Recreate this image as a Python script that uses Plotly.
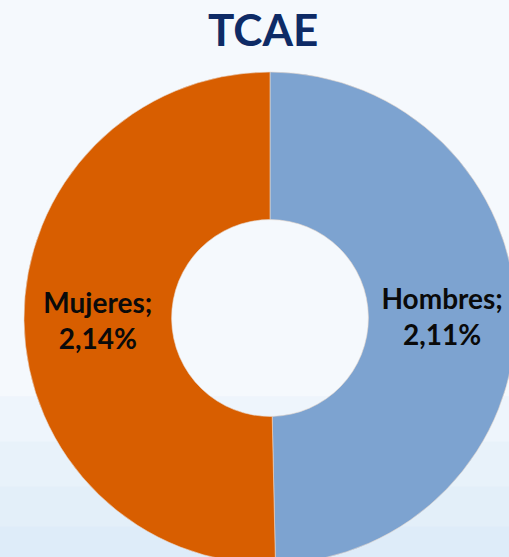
import plotly.graph_objects as go

# Data
title_text = "TCAE"
categories = ["Hombres", "Mujeres"]
values = [2.11, 2.14]
colors = ["#7DA3D0", "#D85E00"]

labels_text = [f"<b>{c};<br>{str(v).replace('.', ',')}%</b>" for c, v in zip(categories, values)]

W, H = 540, 566
cx, cy, R = 270, 318, 246

fig = go.Figure(
    go.Pie(
        labels=categories,
        values=values,
        text=labels_text,
        textinfo="text",
        textposition="inside",
        insidetextorientation="horizontal",
        textfont=dict(family="Lato", size=28, color="#0A0A0A"),
        marker=dict(colors=colors, line=dict(color="#E8D8CC", width=0.6)),
        hole=0.4,
        sort=False,
        direction="clockwise",
        rotation=0,
        showlegend=False,
        hoverinfo="label+value",
        domain=dict(x=[(cx - R) / W, (cx + R) / W], y=[(H - cy - R) / H, (H - cy + R) / H]),
    )
)

# soft light-blue haze toward the bottom of the background
bands = [(0.30, 0.0, 0.18), (0.22, 0.0, 0.2), (0.14, 0.0, 0.25), (0.07, 0.0, 0.3)]
shapes = []
for y0, y1, op in bands:
    shapes.append(dict(type="rect", xref="paper", yref="paper", x0=0, x1=1, y0=y1, y1=y0,
                       fillcolor="#D3E6F7", opacity=op, line=dict(width=0), layer="below"))

fig.update_layout(
    width=W,
    height=H,
    margin=dict(l=0, r=0, t=0, b=0),
    paper_bgcolor="#F5F9FD",
    plot_bgcolor="#F5F9FD",
    shapes=shapes,
    annotations=[
        dict(text=f"<b>{title_text}</b>", x=263 / W, y=1 - 29 / H, xref="paper", yref="paper",
             xanchor="center", yanchor="middle", showarrow=False,
             font=dict(family="Lato", size=44, color="#0E2B66"))
    ],
)

fig.write_html("out.html", post_script="document.body.style.margin='0';document.body.style.overflow='hidden';")
